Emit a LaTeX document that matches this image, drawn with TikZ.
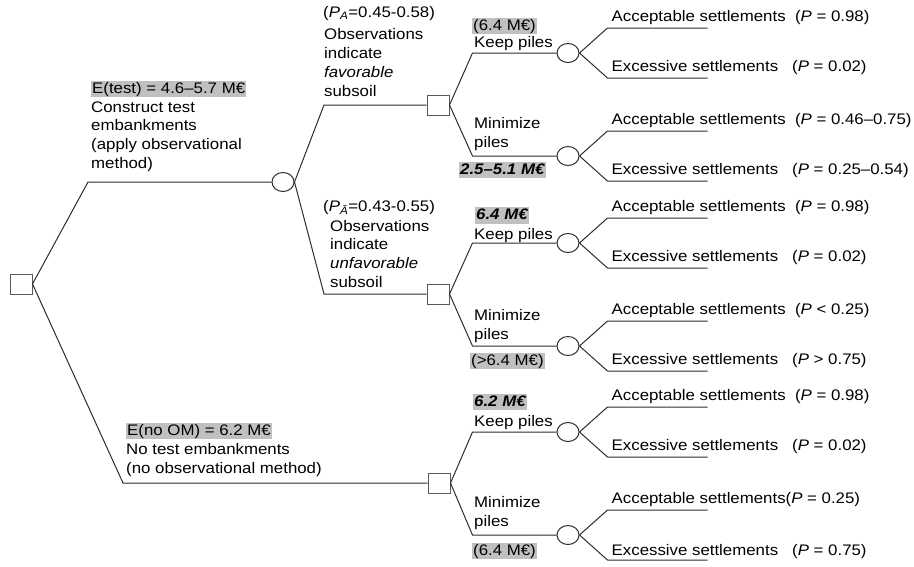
\documentclass[tikz,border=0pt]{standalone}
\usepackage{fontspec}
\setmainfont{Liberation Sans}[FakeStretch=1.1]
\usetikzlibrary{shapes.geometric}
\definecolor{hlgray}{RGB}{192,192,192}
\definecolor{edge}{RGB}{45,45,45}
\tikzset{
  decision/.style={draw=gray!70!black, line width=1pt, rectangle, minimum width=22pt, minimum height=20pt, inner sep=0},
  chance/.style={draw=edge, line width=1pt, ellipse, minimum width=22pt, minimum height=19pt, inner sep=0},
  branch/.style={draw=edge, line width=1pt},
  lbl/.style={inner sep=0, anchor=base west, align=left},
  hl/.style={lbl, fill=hlgray, inner xsep=1pt, text height=12.5pt, text depth=4pt},
}
\begin{document}
\begin{tikzpicture}[x=1pt,y=-1pt,every node/.style={font=\fontsize{15.3}{18.8}\selectfont}]
\useasboundingbox (0,0) rectangle (914,566);
% decision and chance nodes
\node[decision] (root) at (21,284) {};
\node[chance] (c-test) at (283,182) {};
\node[decision] (d-fav) at (438,105) {};
\node[decision] (d-unf) at (438,294) {};
\node[decision] (d-no) at (439,483) {};
\node[chance] (k-fav) at (568,53) {};
\node[chance] (m-fav) at (568,156) {};
\node[chance] (k-unf) at (568,243) {};
\node[chance] (m-unf) at (568,346) {};
\node[chance] (k-no) at (568,432) {};
\node[chance] (m-no) at (568,535) {};
% branches
\draw[branch] (root.east) -- (88,182) -- (c-test.west);
\draw[branch] (root.east) -- (123,483) -- (d-no.west);
\draw[branch] (c-test.east) -- (324,105) -- (d-fav.west);
\draw[branch] (c-test.east) -- (324,294) -- (d-unf.west);
\foreach \d/\k/\m in {d-fav/k-fav/m-fav, d-unf/k-unf/m-unf, d-no/k-no/m-no}{
  \draw[branch] (\d.east) -- ([xshift=-84pt]\k.west) -- (\k.west);
  \draw[branch] (\d.east) -- ([xshift=-84pt]\m.west) -- (\m.west);
}
\foreach \c in {k-fav, m-fav, k-unf, m-unf, k-no, m-no}{
  \draw[branch] (\c.east) -- ++(28,-25) coordinate (\c-a) -- ++(100,0);
  \draw[branch] (\c.east) -- ++(28,25) coordinate (\c-e) -- ++(100,0);
}
% outcomes
\node[lbl] (kfa) at ([xshift=4pt,yshift=7pt]k-fav-a) {Acceptable settlements \ (\textit{P} = 0.98)};
\node[lbl] (kfe) at ([xshift=4pt,yshift=7pt]k-fav-e) {Excessive settlements \ \ (\textit{P} = 0.02)};
\node[lbl] (mfa) at ([xshift=4pt,yshift=7pt]m-fav-a) {Acceptable settlements \ (\textit{P} = 0.46–0.75)};
\node[lbl] (mfe) at ([xshift=4pt,yshift=7pt]m-fav-e) {Excessive settlements \ \ (\textit{P} = 0.25–0.54)};
\node[lbl] (kua) at ([xshift=4pt,yshift=7pt]k-unf-a) {Acceptable settlements \ (\textit{P} = 0.98)};
\node[lbl] (kue) at ([xshift=4pt,yshift=7pt]k-unf-e) {Excessive settlements \ \ (\textit{P} = 0.02)};
\node[lbl] (mua) at ([xshift=4pt,yshift=7pt]m-unf-a) {Acceptable settlements \ (\textit{P} < 0.25)};
\node[lbl] (mue) at ([xshift=4pt,yshift=7pt]m-unf-e) {Excessive settlements \ \ (\textit{P} > 0.75)};
\node[lbl] (kna) at ([xshift=4pt,yshift=7pt]k-no-a) {Acceptable settlements \ (\textit{P} = 0.98)};
\node[lbl] (kne) at ([xshift=4pt,yshift=7pt]k-no-e) {Excessive settlements \ \ (\textit{P} = 0.02)};
\node[lbl] (mna) at ([xshift=4pt,yshift=7pt]m-no-a) {Acceptable settlements(\textit{P} = 0.25)};
\node[lbl] (mne) at ([xshift=4pt,yshift=5pt]m-no-e) {Excessive settlements \ \ (\textit{P} = 0.75)};
% alternatives (multi-line texts sit on their last line)
\node[hl] (etest) at (91,93) {E(test) = 4.6–5.7 M€};
\node[lbl] (etest-t) at (91,168.5) {Construct test\\embankments\\(apply observational\\method)};
\node[lbl] (fav-p) at (323,17) {(\textit{P}\textsubscript{\textit{A}}=0.45-0.58)};
\node[lbl] (fav-t) at (324,96) {Observations\\indicate\\\textit{favorable}\\subsoil};
\node[lbl] (unf-p) at (323,211) {(\textit{P}\textsubscript{\textit{Ā}}=0.43-0.55)};
\node[lbl] (unf-t) at (330,287.5) {Observations\\indicate\\\textit{unfavorable}\\subsoil};
\node[hl] (eno) at (126,435) {E(no OM) = 6.2 M€};
\node[lbl] (eno-t) at (126,473) {No test embankments\\(no observational method)};
% piles
\node[hl] (kf-v) at (472,30) {(6.4 M€)};
\node[lbl] (kf-t) at (474,47) {Keep piles};
\node[lbl] (mf-t) at (474,147) {Minimize\\piles};
\node[hl] (mf-v) at (459,174) {\textbf{\textit{2.5–5.1 M€}}};
\node[hl] (ku-v) at (475,219.5) {\textbf{\textit{6.4 M€}}};
\node[lbl] (ku-t) at (474,239) {Keep piles};
\node[lbl] (mu-t) at (474,339) {Minimize\\piles};
\node[hl] (mu-v) at (470,365) {(>6.4 M€)};
\node[hl] (kn-v) at (473,406) {\textbf{\textit{6.2 M€}}};
\node[lbl] (kn-t) at (474,426) {Keep piles};
\node[lbl] (mn-t) at (474,526) {Minimize\\piles};
\node[hl] (mn-v) at (472,555) {(6.4 M€)};
\end{tikzpicture}
\end{document}
